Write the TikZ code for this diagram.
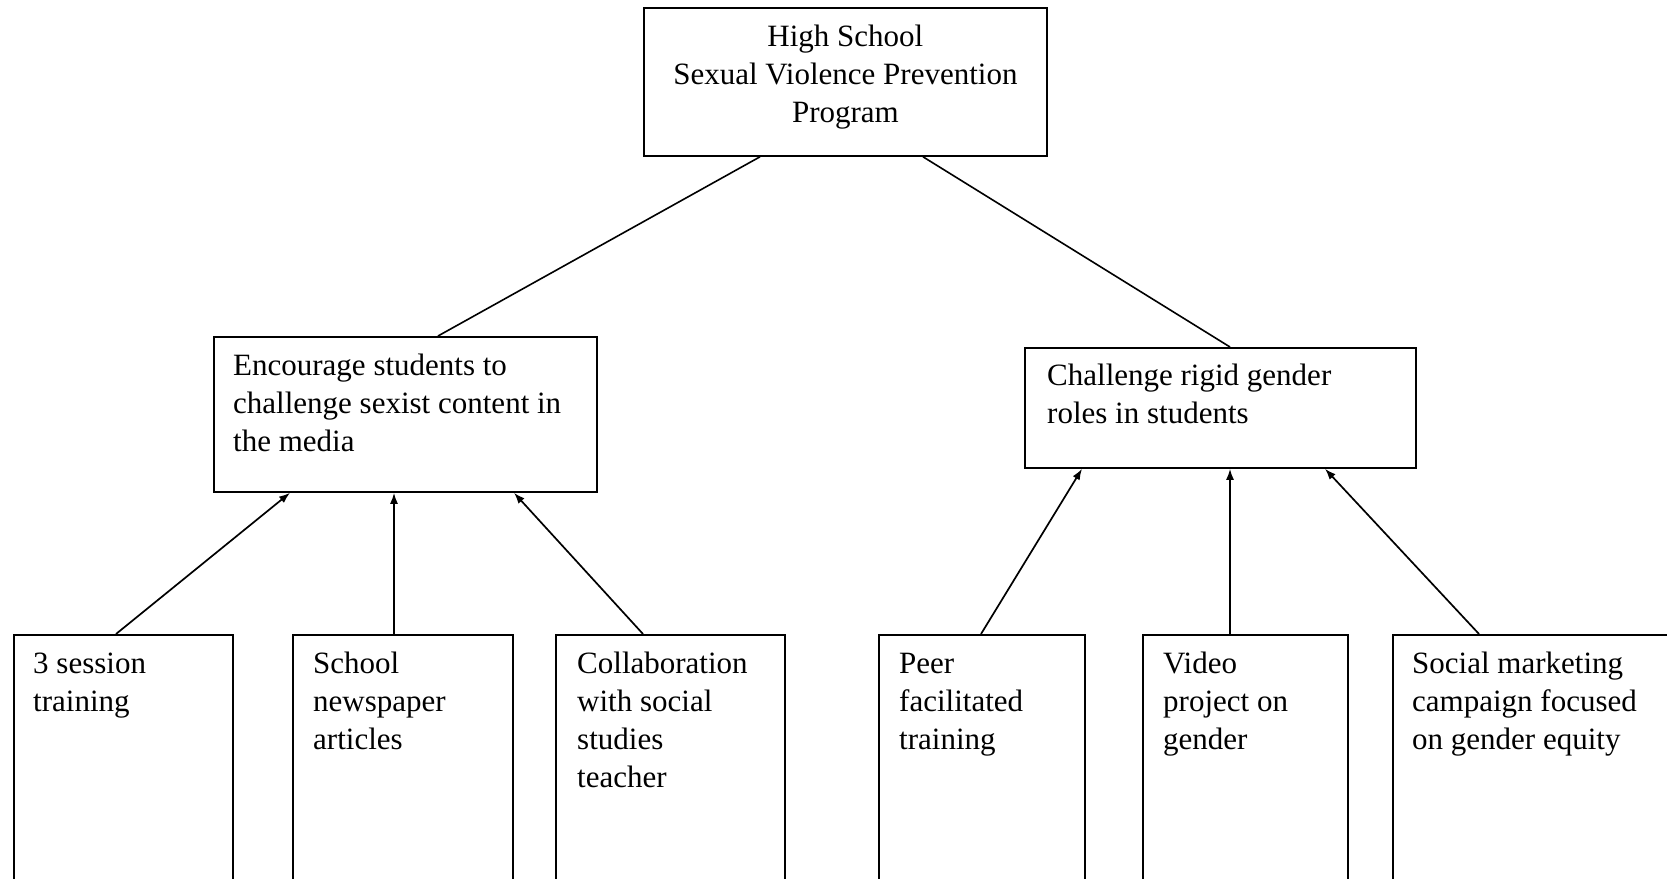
\documentclass[tikz,border=0pt]{standalone}
\usepackage{fontspec}
\setmainfont{Liberation Serif}
\usetikzlibrary{arrows.meta,calc}
\tikzset{
  boxnode/.style={draw=black, line width=1.8pt, rectangle, inner sep=0pt, anchor=north west},
  txt/.style={inner sep=0pt, anchor=north west, align=left, font=\fontsize{31}{38}\selectfont},
  ctxt/.style={inner sep=0pt, anchor=north, align=center, font=\fontsize{31}{38}\selectfont},
  link/.style={line width=1.6pt},
  arr/.style={line width=1.7pt, -{Latex[length=11pt,width=8pt]}}
}
\begin{document}
\begin{tikzpicture}[x=1pt,y=-1pt]
\useasboundingbox (0,0) rectangle (1667,878);
\fill[white] (0,0) rectangle (1667,878);
\clip (0,0) rectangle (1667,878);
% boxes
\node[boxnode, minimum width=403pt, minimum height=148pt] (top) at (643,7) {};
\node[boxnode, minimum width=383pt, minimum height=155pt] (m1) at (213,336) {};
\node[boxnode, minimum width=391pt, minimum height=120pt] (m2) at (1024,347) {};
\node[boxnode, minimum width=219pt, minimum height=300pt] (b1) at (13,634) {};
\node[boxnode, minimum width=220pt, minimum height=300pt] (b2) at (292,634) {};
\node[boxnode, minimum width=229pt, minimum height=300pt] (b3) at (555,634) {};
\node[boxnode, minimum width=206pt, minimum height=300pt] (b4) at (878,634) {};
\node[boxnode, minimum width=205pt, minimum height=300pt] (b5) at (1142,634) {};
\node[boxnode, minimum width=320pt, minimum height=300pt] (b6) at (1392,634) {};
% texts
\node[ctxt] (topt) at ([yshift=-12.4pt]top.north) {\strut High School\\Sexual Violence Prevention\\Program};
\node[txt] (m1t) at ([xshift=20pt,yshift=-12.4pt]m1.north west) {\strut Encourage students to\\challenge sexist content in\\the media};
\node[txt] (m2t) at ([xshift=23pt,yshift=-11.4pt]m2.north west) {\strut Challenge rigid gender\\roles in students};
\node[txt] (b1t) at ([xshift=20pt,yshift=-12.4pt]b1.north west) {\strut 3 session\\training};
\node[txt] (b2t) at ([xshift=21pt,yshift=-12.4pt]b2.north west) {\strut School\\newspaper\\articles};
\node[txt] (b3t) at ([xshift=22pt,yshift=-12.4pt]b3.north west) {\strut Collaboration\\with social\\studies\\teacher};
\node[txt] (b4t) at ([xshift=21pt,yshift=-12.4pt]b4.north west) {\strut Peer\\facilitated\\training};
\node[txt] (b5t) at ([xshift=21pt,yshift=-12.4pt]b5.north west) {\strut Video\\project on\\gender};
\node[txt] (b6t) at ([xshift=20pt,yshift=-12.4pt]b6.north west) {\strut Social marketing\\campaign focused\\on gender equity};
% links from top
\draw[link] ([xshift=117pt]top.south west) -- ([xshift=225pt]m1.north west);
\draw[link] ([xshift=280pt]top.south west) -- ([xshift=206pt]m2.north west);
% arrows to m1
\draw[arr] ([xshift=103pt]b1.north west) -- ([xshift=77pt]m1.south west);
\draw[arr] ([xshift=102pt]b2.north west) -- ([xshift=181pt]m1.south west);
\draw[arr] ([xshift=88pt]b3.north west) -- ([xshift=301pt]m1.south west);
% arrows to m2
\draw[arr] ([xshift=103pt]b4.north west) -- ([xshift=58pt]m2.south west);
\draw[arr] ([xshift=88pt]b5.north west) -- ([xshift=206pt]m2.south west);
\draw[arr] ([xshift=87pt]b6.north west) -- ([xshift=301pt]m2.south west);
\end{tikzpicture}
\end{document}
